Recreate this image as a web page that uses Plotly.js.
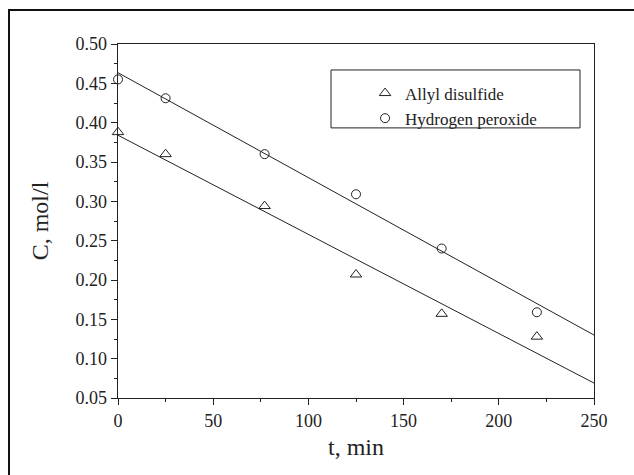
<!DOCTYPE html>
<html>
<head>
<meta charset="utf-8">
<script src="https://cdn.plot.ly/plotly-3.0.1.min.js"></script>
<style>html,body{margin:0;padding:0;background:#fff;}#chart{width:634px;height:475px;}</style>
</head>
<body>
<div id="chart"></div>
<script>
// Measured data
const tAllyl = [0, 25, 77, 125, 170, 220];
const cAllyl = [0.388, 0.360, 0.294, 0.207, 0.157, 0.128];
const tH2O2 = [0, 25, 77, 125, 170, 220];
const cH2O2 = [0.455, 0.431, 0.360, 0.309, 0.240, 0.159];
// Fitted lines (endpoints)
const fitT = [0, 250];
const fitAllyl = [0.384, 0.069];
const fitH2O2 = [0.4635, 0.130];

const xTicks = [0, 50, 100, 150, 200, 250];
const yTicks = [0.05, 0.10, 0.15, 0.20, 0.25, 0.30, 0.35, 0.40, 0.45, 0.50];

const ink = '#222';
const serif = "'Liberation Serif', 'Times New Roman', Times, serif";
const traces = [
  {x: fitT, y: fitAllyl, mode: 'lines', line: {color: ink, width: 1}, showlegend: false, hoverinfo: 'skip'},
  {x: fitT, y: fitH2O2, mode: 'lines', line: {color: ink, width: 1}, showlegend: false, hoverinfo: 'skip'},
  {x: tAllyl, y: cAllyl, mode: 'markers', name: 'Allyl disulfide', cliponaxis: false,
   marker: {symbol: 'triangle-up-open', size: 10, color: ink, line: {width: 1, color: ink}}},
  {x: tH2O2, y: cH2O2, mode: 'markers', name: 'Hydrogen peroxide', cliponaxis: false,
   marker: {symbol: 'circle-open', size: 9, color: ink, line: {width: 1, color: ink}}}
];

const tickFont = {family: serif, size: 18, color: '#222'};
const titleFont = {family: serif, size: 24, color: '#222'};
const layout = {
  width: 634, height: 475,
  margin: {l: 118, r: 40, t: 44, b: 77},
  paper_bgcolor: '#fff', plot_bgcolor: '#fff',
  font: tickFont,
  showlegend: true,
  legend: {x: 0.519, y: 0.911, xanchor: 'left', yanchor: 'top', bgcolor: 'rgba(0,0,0,0)', borderwidth: 0,
           font: {family: serif, size: 17, color: '#222'}},
  xaxis: {
    range: [0, 250], tickvals: xTicks, ticktext: xTicks.map(String),
    ticks: 'outside', ticklen: 6, tickwidth: 1, tickcolor: ink,
    minor: {dtick: 25, tick0: 0, ticks: 'outside', ticklen: 3, tickcolor: ink, showgrid: false},
    showline: true, linecolor: ink, linewidth: 1.3, mirror: true,
    showgrid: false, zeroline: false, tickfont: tickFont,
    title: {text: 't, min', font: titleFont, standoff: 8}
  },
  yaxis: {
    range: [0.05, 0.50], tickvals: yTicks, ticktext: yTicks.map(v => v.toFixed(2)),
    ticks: 'outside', ticklen: 6, tickwidth: 1, tickcolor: ink,
    minor: {dtick: 0.025, tick0: 0.05, ticks: 'outside', ticklen: 3, tickcolor: ink, showgrid: false},
    showline: true, linecolor: ink, linewidth: 1.3, mirror: true,
    showgrid: false, zeroline: false, tickfont: tickFont,
    title: {text: 'C, mol/l', font: titleFont, standoff: 20}
  },
  shapes: [
    {type: 'rect', xref: 'paper', yref: 'paper', x0: -0.229, x1: 1.2, y0: -0.3, y1: 1.096,
     line: {color: '#111', width: 2}, fillcolor: 'rgba(0,0,0,0)', layer: 'below'},
    {type: 'rect', xref: 'paper', yref: 'paper', x0: 0.4475, x1: 0.9706, y0: 0.763, y1: 0.9266,
     line: {color: ink, width: 1}, fillcolor: 'rgba(0,0,0,0)'}
  ]
};

Plotly.newPlot('chart', traces, layout, {displayModeBar: false, staticPlot: true});
</script>
</body>
</html>
